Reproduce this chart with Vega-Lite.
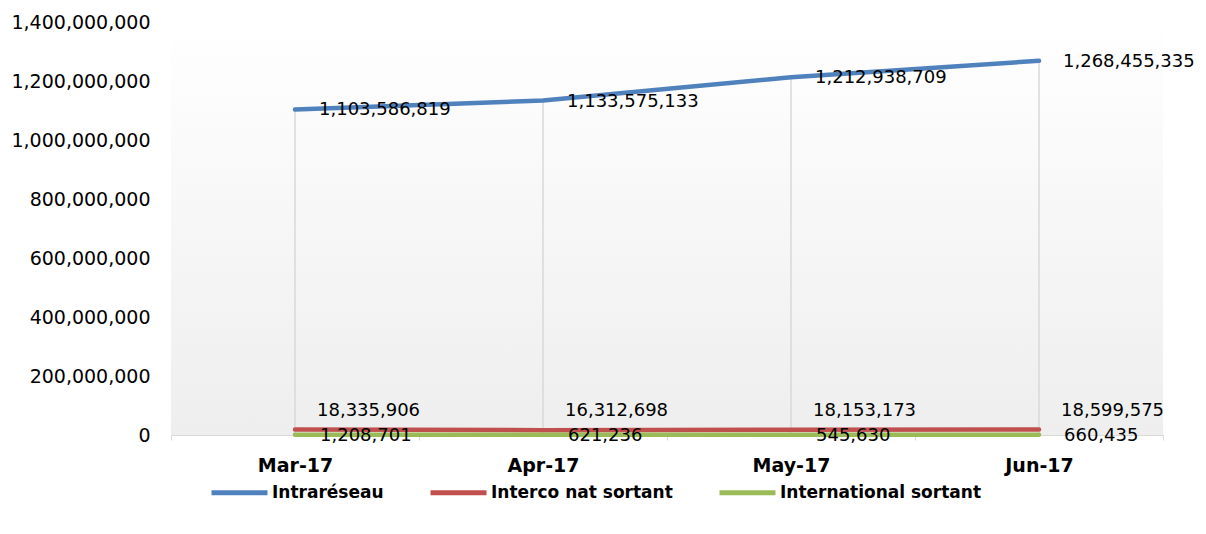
{
  "$schema": "https://vega.github.io/schema/vega-lite/v6.json",
  "width": 992,
  "height": 413,
  "autosize": {"type": "none"},
  "padding": {"left": 171, "top": 22, "right": 43, "bottom": 99},
  "background": "white",
  "config": {
    "font": "DejaVu Sans",
    "view": {
      "stroke": null,
      "fill": {
        "gradient": "linear", "x1": 0, "y1": 0, "x2": 0, "y2": 1,
        "stops": [{"offset": 0, "color": "#ffffff"}, {"offset": 1, "color": "#eeeeee"}]
      }
    }
  },
  "data": {
    "values": [
      {"month": "Mar-17", "series": "Intraréseau", "value": 1103586819},
      {"month": "Apr-17", "series": "Intraréseau", "value": 1133575133},
      {"month": "May-17", "series": "Intraréseau", "value": 1212938709},
      {"month": "Jun-17", "series": "Intraréseau", "value": 1268455335},
      {"month": "Mar-17", "series": "Interco nat sortant", "value": 18335906},
      {"month": "Apr-17", "series": "Interco nat sortant", "value": 16312698},
      {"month": "May-17", "series": "Interco nat sortant", "value": 18153173},
      {"month": "Jun-17", "series": "Interco nat sortant", "value": 18599575},
      {"month": "Mar-17", "series": "International sortant", "value": 1208701},
      {"month": "Apr-17", "series": "International sortant", "value": 621236},
      {"month": "May-17", "series": "International sortant", "value": 545630},
      {"month": "Jun-17", "series": "International sortant", "value": 660435}
    ]
  },
  "encoding": {
    "x": {
      "field": "month", "type": "ordinal",
      "sort": ["Mar-17", "Apr-17", "May-17", "Jun-17"],
      "scale": {"type": "band", "paddingInner": 0, "paddingOuter": 0},
      "axis": {
        "title": null, "labelAngle": 0, "labelFontWeight": "bold", "labelFontSize": 19,
        "labelColor": "#000000", "labelPadding": 16, "domainColor": "#D9D9D9",
        "tickColor": "#D9D9D9", "tickSize": 5, "tickBand": "extent", "grid": false
      }
    },
    "y": {
      "field": "value", "type": "quantitative",
      "scale": {"domain": [0, 1400000000], "nice": false},
      "axis": {
        "title": null, "values": [0, 200000000, 400000000, 600000000, 800000000, 1000000000, 1200000000, 1400000000],
        "format": ",d", "domain": false, "ticks": false, "grid": false,
        "labelPadding": 21, "labelFontSize": 19, "labelColor": "#000000"
      }
    }
  },
  "layer": [
    {
      "transform": [{"filter": "datum.series === 'Intraréseau'"}],
      "mark": {"type": "rule", "color": "#D9D9D9", "strokeWidth": 1.5},
      "encoding": {"y2": {"datum": 0}}
    },
    {
      "mark": {"type": "line", "strokeWidth": 4.5, "strokeCap": "round"},
      "encoding": {
        "color": {
          "field": "series", "type": "nominal",
          "scale": {"domain": ["Intraréseau", "Interco nat sortant", "International sortant"], "range": ["#4F81BD", "#C0504D", "#9BBB59"]},
          "legend": {
            "title": null, "orient": "none", "legendX": 38, "legendY": 440, "direction": "horizontal",
            "symbolType": "stroke", "symbolSize": 3136, "symbolStrokeWidth": 5,
            "labelFontWeight": "bold", "labelFontSize": 17, "labelColor": "#000000",
            "labelOffset": 2, "columnPadding": 36, "labelLimit": 400
          }
        }
      }
    },
    {
      "transform": [{"filter": "datum.series === 'Intraréseau'"}],
      "mark": {"type": "text", "align": "left", "baseline": "middle", "dx": 24, "dy": 1, "fontSize": 18, "color": "#000000"},
      "encoding": {"text": {"field": "value", "type": "quantitative", "format": ",d"}}
    },
    {
      "transform": [{"filter": "datum.series === 'Interco nat sortant'"}],
      "mark": {"type": "text", "align": "left", "baseline": "middle", "dx": 22, "dy": -19, "fontSize": 18, "color": "#000000"},
      "encoding": {"text": {"field": "value", "type": "quantitative", "format": ",d"}}
    },
    {
      "transform": [{"filter": "datum.series === 'International sortant'"}],
      "mark": {"type": "text", "align": "left", "baseline": "middle", "dx": 25, "dy": 1, "fontSize": 18, "color": "#000000"},
      "encoding": {"text": {"field": "value", "type": "quantitative", "format": ",d"}}
    }
  ]
}
